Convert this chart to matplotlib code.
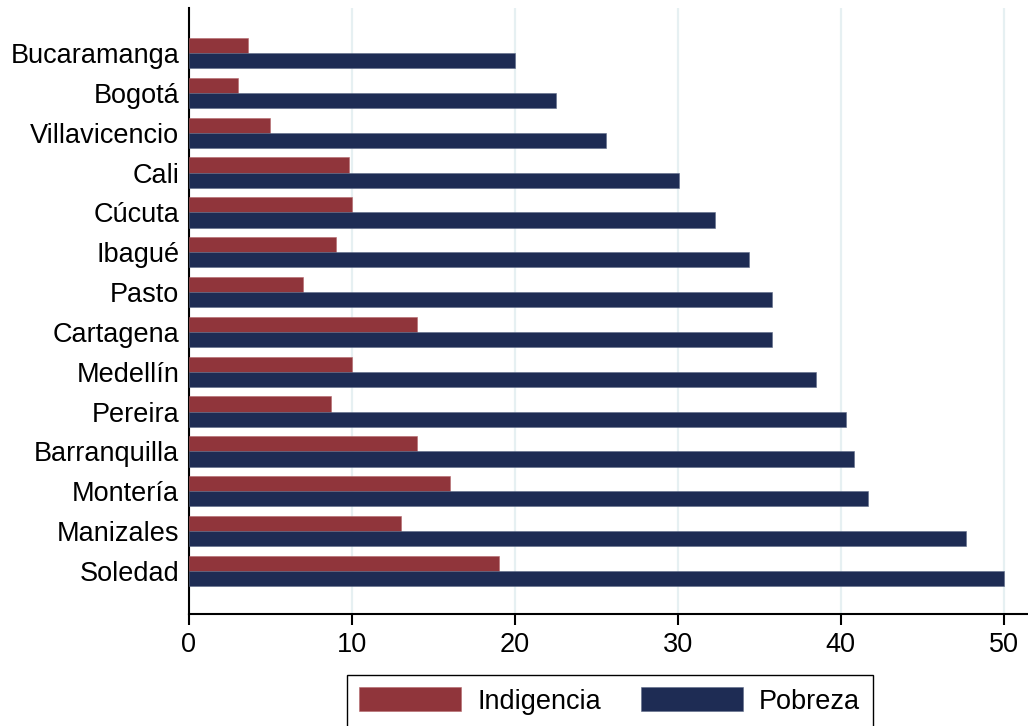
import matplotlib
matplotlib.use("Agg")
import matplotlib.pyplot as plt
import numpy as np

# Datos (orden de arriba hacia abajo)
ciudades = ["Bucaramanga", "Bogotá", "Villavicencio", "Cali", "Cúcuta", "Ibagué", "Pasto",
            "Cartagena", "Medellín", "Pereira", "Barranquilla", "Montería", "Manizales", "Soledad"]
indigencia = [3.6, 3.0, 5.0, 9.8, 10.0, 9.0, 7.0, 14.0, 10.0, 8.7, 14.0, 16.0, 13.0, 19.0]
pobreza = [20.0, 22.5, 25.6, 30.1, 32.3, 34.4, 35.8, 35.8, 38.5, 40.3, 40.8, 41.7, 47.7, 50.0]
xticks = [0, 10, 20, 30, 40, 50]

ROJO = "#90353B"
AZUL = "#1E2C54"
FS = 19.5

plt.rcParams["font.family"] = ["Liberation Sans", "DejaVu Sans"]

fig = plt.figure(figsize=(10.28, 7.26), dpi=100)
ax = fig.add_axes([189 / 1028, 1 - 614 / 726, 1 - 189 / 1028, (614 - 8) / 726])

y = np.arange(len(ciudades))
h = 0.38
ax.barh(y - h / 2, indigencia, height=h, color=ROJO, edgecolor="#b5676c", lw=0.4,
        label="Indigencia", zorder=3)
ax.barh(y + h / 2, pobreza, height=h, color=AZUL, edgecolor="#5f6a88", lw=0.4,
        label="Pobreza", zorder=3)

ax.set_xlim(0, 51.5)
ax.set_ylim(len(ciudades) - 1 + 1.08, -1.13)
ax.set_yticks(y)
ax.set_yticklabels(ciudades, fontsize=FS)
ax.set_xticks(xticks)
ax.set_xticklabels([str(t) for t in xticks], fontsize=FS)
ax.tick_params(axis="y", length=0, pad=7)
ax.tick_params(axis="x", length=8, width=1.5, pad=5)

# Rejilla vertical clara, estilo Stata
ax.grid(axis="x", color="#e6f0f2", lw=1.6, zorder=0)
for s in ("top", "right"):
    ax.spines[s].set_visible(False)
ax.spines["left"].set_linewidth(1.5)
ax.spines["bottom"].set_linewidth(1.5)

fig.legend(loc="upper left", bbox_to_anchor=(347 / 1028, 1 - 675 / 726), ncol=2,
           fontsize=FS, fancybox=False, edgecolor="black", framealpha=1,
           handlelength=3.75, handleheight=1.0, handletextpad=0.6,
           columnspacing=1.5, borderpad=0.45, borderaxespad=0)

fig.savefig("out.png", dpi=100)
